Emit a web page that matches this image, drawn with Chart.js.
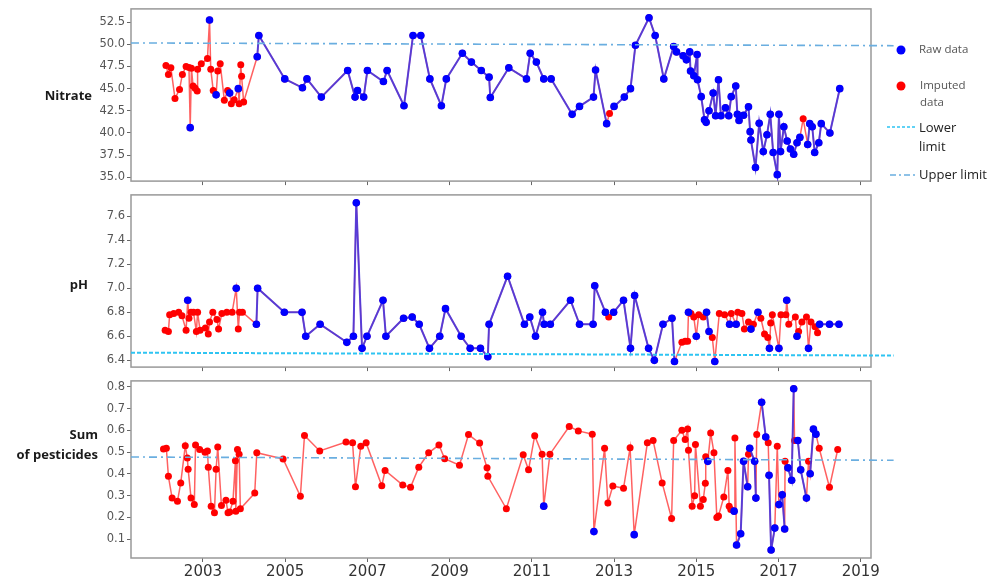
<!DOCTYPE html>
<html>
<head>
<meta charset="utf-8">
<script src="https://cdn.jsdelivr.net/npm/chart.js@4.4.1/dist/chart.umd.min.js"></script>
<style>
  body { margin: 0; background: #fff; width: 995px; height: 582px; position: relative; overflow: hidden; font-family: "Open Sans", sans-serif; }
  canvas { position: absolute; left: 0; }
  .ylab { position: absolute; font-weight: bold; font-size: 13px; color: #1a1a1a; text-align: right; line-height: 20px; }
  .leg { position: absolute; left: 0; top: 0; }
  .lt { position: absolute; font-size: 13px; color: #222; line-height: 19px; }
  .lt.small { font-size: 11.5px; color: #555; line-height: 17px; }
</style>
</head>
<body>
<canvas id="nitrateChart" width="900" height="190" style="top:0px"></canvas>
<canvas id="phChart" width="900" height="190" style="top:186px"></canvas>
<canvas id="pestChart" width="900" height="210" style="top:372px"></canvas>

<div class="ylab" style="right:903px; top:85px;">Nitrate</div>
<div class="ylab" style="right:907px; top:274px;">pH</div>
<div class="ylab" style="right:897px; top:424px;">Sum<br>of pesticides</div>

<!-- legend -->
<svg class="leg" width="995" height="200">
  <circle cx="901" cy="50" r="4.5" fill="#0000ff"/>
  <circle cx="901" cy="86" r="4.5" fill="#ff0000"/>
  <line x1="887" y1="127" x2="916" y2="127" stroke="#2ec4f2" stroke-width="1.5" stroke-dasharray="3,2"/>
  <line x1="890" y1="175" x2="915" y2="175" stroke="#6aaee0" stroke-width="1.5" stroke-dasharray="6,3,2,3"/>
</svg>
<div class="lt small" style="left:919px; top:40px;">Raw data</div>
<div class="lt small" style="left:920px; top:76px;">Imputed<br>data</div>
<div class="lt" style="left:919px; top:118px;">Lower<br>limit</div>
<div class="lt" style="left:919px; top:165px;">Upper limit</div>

<script>
// ---- data ----
const yearTicks = [2003, 2005, 2007, 2009, 2011, 2013, 2015, 2017, 2019];

const nitrateDates = [
  2002.10, 2002.16, 2002.22, 2002.32, 2002.43, 2002.50, 2002.59, 2002.66, 2002.69, 2002.72,
  2002.76, 2002.81, 2002.86, 2002.87, 2002.96, 2003.11, 2003.16, 2003.19, 2003.25, 2003.32,
  2003.36, 2003.42, 2003.52, 2003.60, 2003.65, 2003.69, 2003.76, 2003.86, 2003.88, 2003.92,
  2003.94, 2003.99, 2004.32, 2004.36, 2004.99, 2005.42, 2005.53, 2005.88, 2006.52, 2006.70,
  2006.76, 2006.91, 2007.00, 2007.39, 2007.48, 2007.89, 2008.11, 2008.30, 2008.52, 2008.80,
  2008.92, 2009.31, 2009.53, 2009.77, 2009.96, 2009.99, 2010.44, 2010.87, 2010.96, 2011.11,
  2011.29, 2011.47, 2011.98, 2012.16, 2012.50, 2012.55, 2012.82, 2012.89, 2013.00, 2013.25,
  2013.40, 2013.52, 2013.85, 2014.00, 2014.21, 2014.45, 2014.52, 2014.68, 2014.76, 2014.84,
  2014.86, 2014.94, 2015.02, 2015.03, 2015.12, 2015.20, 2015.24, 2015.31, 2015.41, 2015.47,
  2015.54, 2015.60, 2015.71, 2015.79, 2015.85, 2015.96, 2016.00, 2016.04, 2016.15, 2016.27,
  2016.31, 2016.33, 2016.44, 2016.53, 2016.63, 2016.72, 2016.80, 2016.87, 2016.97, 2017.01,
  2017.05, 2017.13, 2017.21, 2017.29, 2017.37, 2017.45, 2017.52, 2017.60, 2017.71, 2017.76,
  2017.82, 2017.88, 2017.98, 2018.04, 2018.25, 2018.49
];
const nitrateValues = [
  47.6, 46.6, 47.35, 43.9, 44.9, 46.6, 47.5, 47.4, 40.6, 47.3,
  45.3, 45.05, 44.75, 47.2, 47.8, 48.4, 52.75, 47.2, 44.8, 44.3,
  47.0, 47.8, 43.7, 44.8, 44.5, 43.3, 43.75, 45.0, 43.3, 47.7,
  46.4, 43.5, 48.6, 51.0, 46.1, 45.1, 46.1, 44.05, 47.05, 44.05,
  44.8, 44.05, 47.05, 45.8, 47.05, 43.07, 51.0, 51.0, 46.1, 43.07,
  46.1, 49.0, 48.0, 47.05, 46.3, 44.0, 47.35, 46.1, 49.0, 48.0,
  46.1, 46.1, 42.1, 43.0, 44.05, 47.1, 41.05, 42.2, 43.0, 44.05,
  45.0, 49.9, 53.0, 51.0, 46.1, 49.75, 49.15, 48.7, 48.25, 49.15,
  47.0, 46.45, 48.85, 46.0, 44.1, 41.5, 41.2, 42.5, 44.5, 41.95,
  46.0, 41.95, 42.85, 41.95, 44.1, 45.3, 42.1, 41.4, 42.0, 42.95,
  40.15, 39.2, 36.1, 41.1, 37.9, 39.8, 42.1, 37.8, 35.3, 42.1,
  37.9, 40.7, 39.1, 38.2, 37.6, 38.9, 39.5, 41.6, 38.7, 41.05,
  40.7, 37.8, 38.9, 41.05, 40.0, 45.0
];
// 1 = raw measurement, 0 = imputed
const nitrateRaw = [
  0,0,0,0,0,0,0,0,1,0,
  0,0,0,0,0,0,1,0,0,1,
  0,0,0,0,1,0,0,1,0,0,
  0,0,1,1,1,1,1,1,1,1,
  1,1,1,1,1,1,1,1,1,1,
  1,1,1,1,1,1,1,1,1,1,
  1,1,1,1,1,1,1,0,1,1,
  1,1,1,1,1,1,1,1,1,1,
  1,1,1,1,1,1,1,1,1,1,
  1,1,1,1,1,1,1,1,1,1,
  1,1,1,1,1,1,1,1,1,1,
  1,1,1,1,1,1,1,0,1,1,
  1,1,1,1,1,1
];

const phDates = [
  2002.08, 2002.16, 2002.19, 2002.29, 2002.41, 2002.49, 2002.59, 2002.63, 2002.66, 2002.71,
  2002.77, 2002.84, 2002.87, 2002.93, 2003.06, 2003.13, 2003.16, 2003.24, 2003.34, 2003.38,
  2003.46, 2003.58, 2003.71, 2003.81, 2003.86, 2003.89, 2003.96, 2004.30, 2004.33, 2004.98,
  2005.41, 2005.50, 2005.85, 2006.50, 2006.66, 2006.73, 2006.87, 2006.99, 2007.38, 2007.45,
  2007.88, 2008.09, 2008.26, 2008.51, 2008.76, 2008.90, 2009.28, 2009.50, 2009.75, 2009.93,
  2009.96, 2010.41, 2010.82, 2010.95, 2011.09, 2011.26, 2011.30, 2011.45, 2011.94, 2012.16,
  2012.49, 2012.53, 2012.79, 2012.87, 2012.99, 2013.23, 2013.40, 2013.50, 2013.84, 2013.98,
  2014.19, 2014.41, 2014.47, 2014.65, 2014.73, 2014.79, 2014.81, 2014.87, 2014.94, 2015.00,
  2015.06, 2015.17, 2015.25, 2015.31, 2015.39, 2015.45, 2015.56, 2015.69, 2015.81, 2015.85,
  2015.97, 2016.01, 2016.11, 2016.17, 2016.27, 2016.33, 2016.39, 2016.50, 2016.57, 2016.66,
  2016.74, 2016.78, 2016.81, 2016.85, 2017.01, 2017.06, 2017.18, 2017.20, 2017.25, 2017.41,
  2017.45, 2017.49, 2017.57, 2017.68, 2017.73, 2017.79, 2017.89, 2017.95, 2018.00, 2018.24,
  2018.47
];
const phValues = [
  6.65, 6.64, 6.78, 6.79, 6.80, 6.77, 6.65, 6.90, 6.75, 6.80,
  6.80, 6.64, 6.80, 6.65, 6.67, 6.62, 6.72, 6.80, 6.74, 6.66,
  6.79, 6.80, 6.80, 7.00, 6.66, 6.80, 6.80, 6.70, 7.00, 6.80,
  6.80, 6.60, 6.70, 6.55, 6.60, 7.71, 6.50, 6.60, 6.90, 6.60,
  6.75, 6.76, 6.70, 6.50, 6.60, 6.83, 6.60, 6.50, 6.50, 6.43,
  6.70, 7.10, 6.70, 6.76, 6.60, 6.80, 6.70, 6.70, 6.90, 6.70,
  6.70, 7.02, 6.80, 6.76, 6.80, 6.90, 6.50, 6.94, 6.50, 6.40,
  6.70, 6.75, 6.39, 6.55, 6.56, 6.56, 6.80, 6.79, 6.76, 6.60,
  6.78, 6.76, 6.80, 6.64, 6.59, 6.39, 6.79, 6.78, 6.70, 6.79,
  6.70, 6.80, 6.79, 6.66, 6.72, 6.66, 6.70, 6.80, 6.75, 6.62,
  6.59, 6.50, 6.71, 6.78, 6.50, 6.78, 6.78, 6.90, 6.70, 6.76,
  6.60, 6.64, 6.72, 6.76, 6.50, 6.72, 6.68, 6.63, 6.70, 6.70,
  6.70
];
const phRaw = [
  0,0,0,0,0,0,0,1,0,0,
  0,0,0,0,0,0,0,0,0,0,
  0,0,0,1,0,0,0,1,1,1,
  1,1,1,1,1,1,1,1,1,1,
  1,1,1,1,1,1,1,1,1,1,
  1,1,1,1,1,1,1,1,1,1,
  1,1,1,0,1,1,1,1,1,1,
  1,1,1,0,0,0,1,0,0,1,
  0,0,1,1,0,1,0,0,1,0,
  1,0,0,0,0,1,0,1,0,0,
  0,1,0,0,1,0,0,1,0,0,
  1,0,0,0,1,0,0,0,1,1,
  1
];

const pestDates = [
  2002.04, 2002.11, 2002.16, 2002.25, 2002.38, 2002.46, 2002.57, 2002.62, 2002.64, 2002.71,
  2002.79, 2002.82, 2002.92, 2003.05, 2003.11, 2003.13, 2003.20, 2003.28, 2003.32, 2003.36,
  2003.45, 2003.56, 2003.61, 2003.65, 2003.73, 2003.79, 2003.80, 2003.84, 2003.88, 2003.91,
  2004.26, 2004.31, 2004.95, 2005.37, 2005.47, 2005.84, 2006.48, 2006.64, 2006.71, 2006.84,
  2006.97, 2007.35, 2007.43, 2007.86, 2008.05, 2008.25, 2008.49, 2008.74, 2008.88, 2009.24,
  2009.46, 2009.73, 2009.91, 2009.93, 2010.38, 2010.79, 2010.92, 2011.07, 2011.25, 2011.29,
  2011.44, 2011.91, 2012.13, 2012.47, 2012.51, 2012.77, 2012.85, 2012.97, 2013.23, 2013.39,
  2013.49, 2013.81, 2013.95, 2014.17, 2014.40, 2014.45, 2014.65, 2014.73, 2014.79, 2014.81,
  2014.90, 2014.96, 2014.98, 2015.10, 2015.17, 2015.22, 2015.23, 2015.28, 2015.35, 2015.43,
  2015.50, 2015.54, 2015.67, 2015.77, 2015.80, 2015.84, 2015.92, 2015.94, 2015.98, 2016.08,
  2016.15, 2016.25, 2016.27, 2016.30, 2016.42, 2016.45, 2016.47, 2016.59, 2016.69, 2016.75,
  2016.77, 2016.82, 2016.91, 2016.97, 2017.01, 2017.09, 2017.15, 2017.16, 2017.23, 2017.32,
  2017.37, 2017.39, 2017.47, 2017.54, 2017.68, 2017.73, 2017.77, 2017.85, 2017.91, 2017.99,
  2018.24, 2018.44
];
const pestValues = [
  0.515, 0.518, 0.389, 0.289, 0.274, 0.359, 0.530, 0.473, 0.422, 0.289,
  0.259, 0.533, 0.512, 0.500, 0.506, 0.431, 0.252, 0.222, 0.422, 0.524,
  0.255, 0.279, 0.222, 0.225, 0.274, 0.461, 0.229, 0.512, 0.491, 0.240,
  0.312, 0.498, 0.469, 0.297, 0.577, 0.506, 0.547, 0.543, 0.341, 0.528,
  0.543, 0.346, 0.416, 0.349, 0.339, 0.431, 0.497, 0.533, 0.470, 0.440,
  0.581, 0.542, 0.428, 0.389, 0.240, 0.488, 0.419, 0.576, 0.491, 0.252,
  0.491, 0.618, 0.598, 0.583, 0.135, 0.518, 0.267, 0.345, 0.334, 0.521,
  0.121, 0.543, 0.554, 0.359, 0.195, 0.554, 0.601, 0.558, 0.607, 0.509,
  0.252, 0.300, 0.536, 0.252, 0.282, 0.357, 0.479, 0.458, 0.588, 0.498,
  0.200, 0.207, 0.294, 0.416, 0.252, 0.237, 0.229, 0.565, 0.073, 0.125,
  0.458, 0.341, 0.491, 0.518, 0.458, 0.289, 0.581, 0.730, 0.570, 0.543,
  0.394, 0.050, 0.151, 0.528, 0.259, 0.304, 0.147, 0.458, 0.428, 0.371,
  0.792, 0.554, 0.554, 0.419, 0.289, 0.458, 0.401, 0.606, 0.583, 0.518,
  0.339, 0.512
];
const pestRaw = [
  0,0,0,0,0,0,0,0,0,0,
  0,0,0,0,0,0,0,0,0,0,
  0,0,0,0,0,0,0,0,0,0,
  0,0,0,0,0,0,0,0,0,0,
  0,0,0,0,0,0,0,0,0,0,
  0,0,0,0,0,0,0,0,0,1,
  0,0,0,0,1,0,0,0,0,0,
  1,0,0,0,0,0,0,0,0,0,
  0,0,0,0,0,0,0,1,0,0,
  0,0,0,0,0,0,1,0,1,1,
  1,1,0,1,1,1,0,1,1,0,
  1,1,1,0,1,1,1,0,1,1,
  1,0,1,1,1,0,1,1,1,0,
  0,0
];

// limit lines as drawn (slightly slanted in the original), start/end of each line
const limitX = [2001.25, 2019.8];
const nitrateUpper = [50.16, 49.85];
const phLower = [6.464, 6.44];
const pestUpper = [0.478, 0.463];

const nitrateTicks = [35, 37.5, 40, 42.5, 45, 47.5, 50, 52.5];
const phTicks = [6.4, 6.6, 6.8, 7.0, 7.2, 7.4, 7.6];
const pestTicks = [0.1, 0.2, 0.3, 0.4, 0.5, 0.6, 0.7, 0.8];

// ---- chart helpers ----
const framePlugin = {
    id: 'frame',
    beforeDatasetsDraw(chart) {
        const a = chart.chartArea;
        const c = chart.ctx;
        c.save();
        c.strokeStyle = '#999';
        c.lineWidth = 1.5;
        c.strokeRect(a.left, a.top, a.right - a.left, a.bottom - a.top);
        c.restore();
    }
};

function makePanel(id, dates, values, raw, opts) {
    const allPts = dates.map((d, i) => ({ x: d, y: values[i] }));
    const rawPts = dates.map((d, i) => ({ x: d, y: raw[i] ? values[i] : null }));
    const limPts = limitX.map((d, i) => ({ x: d, y: opts.limit[i] }));

    return new Chart(document.getElementById(id).getContext('2d'), {
        type: 'line',
        data: {
            datasets: [
                {
                    data: limPts,
                    borderColor: opts.limitColor,
                    borderWidth: opts.limitWidth,
                    borderDash: opts.limitDash,
                    pointRadius: 0,
                    clip: false,
                    order: 0,
                },
                {
                    data: rawPts,
                    borderColor: 'rgba(60, 50, 230, 0.85)',
                    borderWidth: 2,
                    pointBackgroundColor: '#0000ff',
                    pointBorderWidth: 0,
                    pointRadius: 3.8,
                    spanGaps: false,
                    order: 1,
                },
                {
                    data: allPts,
                    borderColor: 'rgba(255, 0, 0, 0.62)',
                    borderWidth: 1.5,
                    pointBackgroundColor: '#ff0000',
                    pointBorderWidth: 0,
                    pointRadius: 3.5,
                    order: 2,
                },
            ],
        },
        options: {
            responsive: false,
            devicePixelRatio: 1,
            animation: false,
            layout: { padding: { left: 91, right: 29, top: opts.padTop, bottom: opts.padBottom } },
            plugins: { legend: { display: false }, tooltip: { enabled: false } },
            elements: { line: { tension: 0 } },
            scales: {
                x: {
                    type: 'linear',
                    min: 2001.25,
                    max: 2019.25,
                    afterBuildTicks: s => { s.ticks = yearTicks.map(v => ({ value: v })); },
                    afterFit: s => { s.height = opts.xHeight; },
                    grid: { drawOnChartArea: false, drawTicks: true, tickLength: 4, color: '#666' },
                    border: { display: false },
                    ticks: {
                        display: opts.showYears,
                        autoSkip: false,
                        maxRotation: 0,
                        padding: 1,
                        color: '#333',
                        font: { family: 'DejaVu Sans', size: 15 },
                        callback: v => String(v),
                    },
                },
                y: {
                    min: opts.yMin,
                    max: opts.yMax,
                    afterBuildTicks: s => { s.ticks = opts.ticks.map(v => ({ value: v })); },
                    afterFit: s => { s.width = 40; },
                    grid: { drawOnChartArea: false, drawTicks: true, tickLength: 4, color: '#666' },
                    border: { display: false },
                    ticks: {
                        padding: 2,
                        color: '#555',
                        font: { family: 'DejaVu Sans', size: 11.5 },
                        callback: v => v.toFixed(opts.decimals),
                    },
                },
            },
        },
        plugins: [framePlugin],
    });
}

makePanel('nitrateChart', nitrateDates, nitrateValues, nitrateRaw, {
    yMin: 34.57, yMax: 54.0, ticks: nitrateTicks, decimals: 1,
    limit: nitrateUpper, limitColor: '#6aaee0', limitWidth: 1.6, limitDash: [8, 4, 2, 4],
    padTop: 5, padBottom: 0, xHeight: 5, showYears: false,
});

makePanel('phChart', phDates, phValues, phRaw, {
    yMin: 6.344, yMax: 7.776, ticks: phTicks, decimals: 1,
    limit: phLower, limitColor: '#2ec4f2', limitWidth: 2, limitDash: [4, 2],
    padTop: 4, padBottom: 2, xHeight: 5, showYears: false,
});

makePanel('pestChart', pestDates, pestValues, pestRaw, {
    yMin: 0.0135, yMax: 0.828, ticks: pestTicks, decimals: 1,
    limit: pestUpper, limitColor: '#6aaee0', limitWidth: 1.6, limitDash: [8, 4, 2, 4],
    padTop: 4, padBottom: 0, xHeight: 24, showYears: true,
});
</script>
</body>
</html>
